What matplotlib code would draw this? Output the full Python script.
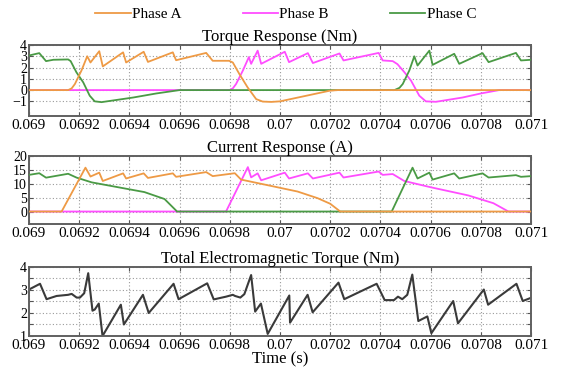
"""Phase torque, phase current and total torque of a 3-phase machine."""

import matplotlib.pyplot as plt
from matplotlib.ticker import FuncFormatter

plt.rcParams["font.family"] = ["Liberation Serif", "DejaVu Serif"]

# phase torque (Nm)
torque_a_t = [0.069, 0.069156, 0.06917, 0.069183, 0.069209, 0.069232, 0.069245, 0.06928,
              0.069294, 0.069375, 0.069387, 0.069457, 0.069474, 0.069573, 0.069586,
              0.069706, 0.069732, 0.069797, 0.069812, 0.069838, 0.069871, 0.069905,
              0.069931, 0.069965, 0.070, 0.070105, 0.070197, 0.07023, 0.071]
torque_a = [0, 0, 0.15, 0.54, 1.73, 3.0, 2.45, 3.45, 2.1, 3.35, 2.45, 3.4, 2.5, 3.35, 2.65,
            3.3, 2.6, 2.6, 2.45, 1.43, 0.24, -0.8, -1.02, -1.05, -1.0, -0.5, -0.06, 0, 0]

torque_b_t = [0.069, 0.069799, 0.069812, 0.069825, 0.069852, 0.069876, 0.069885, 0.069911,
              0.069925, 0.070019, 0.070036, 0.070111, 0.070131, 0.070237, 0.070253,
              0.070393, 0.070409, 0.070449, 0.070468, 0.070495, 0.070522, 0.070555,
              0.070581, 0.070621, 0.070727, 0.0708, 0.070873, 0.071]
torque_b = [0, 0, 0.15, 0.54, 1.73, 2.93, 2.33, 3.5, 2.33, 3.4, 2.48, 3.28, 2.4, 3.25, 2.63,
            3.3, 2.63, 2.57, 2.3, 1.6, 0.84, -0.5, -1.0, -1.04, -0.66, -0.3, 0, 0]

torque_c_t = [0.069, 0.069041, 0.069068, 0.069097, 0.069156, 0.069166, 0.069189, 0.069216,
              0.069242, 0.069262, 0.069289, 0.069415, 0.069507, 0.0696, 0.070456,
              0.070476, 0.070489, 0.070515, 0.070535, 0.070548, 0.070595, 0.070608,
              0.070694, 0.070714, 0.070807, 0.070831, 0.07094, 0.07096, 0.071]
torque_c = [3.07, 3.28, 2.57, 2.69, 2.72, 2.57, 1.58, 0.69, -0.5, -1.0, -1.07, -0.66, -0.3,
            0, 0, 0.2, 0.54, 1.73, 3.0, 2.18, 3.5, 2.24, 3.22, 2.33, 3.28, 2.48, 3.3, 2.63,
            2.69]

# phase current (A)
current_a_t = [0.069, 0.06913, 0.069225, 0.069245, 0.06928, 0.069294, 0.069375, 0.069387,
               0.069457, 0.069474, 0.069573, 0.069586, 0.069706, 0.069732, 0.06982,
               0.069845, 0.06995, 0.07007, 0.07015, 0.0702, 0.07024, 0.071]
current_a = [0, 0, 15.8, 12.6, 14.0, 11.0, 13.75, 11.9, 13.75, 12.1, 13.75, 12.5, 14.2, 12.75,
             13.8, 11.5, 9.5, 7.2, 4.8, 2.8, 0, 0]

current_b_t = [0.069, 0.069785, 0.069872, 0.069885, 0.069911, 0.069925, 0.070019, 0.070036,
               0.070111, 0.070131, 0.070237, 0.070253, 0.070393, 0.070409, 0.070449,
               0.070495, 0.0706, 0.07075, 0.07085, 0.07091, 0.071]
current_b = [0, 0, 16.0, 12.3, 13.75, 11.25, 14.0, 11.9, 13.75, 11.9, 14.0, 12.25, 14.4, 13.2,
             13.5, 11.0, 8.75, 5.8, 3.0, 0, 0]

current_c_t = [0.069, 0.069041, 0.069068, 0.069156, 0.06919, 0.06925, 0.06934, 0.06946,
               0.06954, 0.06959, 0.070445, 0.070528, 0.070548, 0.070595, 0.070608,
               0.070694, 0.070714, 0.070807, 0.070831, 0.07094, 0.07096, 0.071]
current_c = [13.2, 13.8, 12.2, 13.6, 12.2, 10.5, 9.0, 7.0, 4.5, 0, 0, 15.8, 11.9, 14.0, 11.5,
             13.75, 11.9, 13.75, 12.25, 13.1, 12.5, 12.75]

# total electromagnetic torque (Nm)
total_t = [0.069, 0.069044, 0.06907, 0.06911, 0.069156, 0.06917, 0.06919, 0.069203, 0.06922,
           0.069236, 0.069253, 0.069262, 0.069278, 0.069293, 0.069366, 0.069378, 0.069454,
           0.069477, 0.069576, 0.069596, 0.06971, 0.069736, 0.069785, 0.069812, 0.069821,
           0.069842, 0.069858, 0.069885, 0.069901, 0.069924, 0.069951, 0.070037, 0.07004,
           0.07011, 0.07013, 0.070233, 0.070256, 0.070385, 0.070417, 0.070454, 0.07047,
           0.070487, 0.070507, 0.070527, 0.070551, 0.070587, 0.070603, 0.07069, 0.070709,
           0.070812, 0.070829, 0.070942, 0.070967, 0.071]
total = [3.02, 3.27, 2.6, 2.74, 2.79, 2.83, 2.67, 2.67, 2.86, 3.73, 2.1, 2.15, 2.41, 1.0,
         2.36, 1.5, 2.79, 2.0, 3.27, 2.6, 3.29, 2.59, 2.71, 2.79, 2.74, 2.67, 2.82, 3.65,
         2.06, 2.41, 1.09, 2.76, 1.58, 2.79, 2.03, 3.32, 2.6, 3.27, 2.56, 2.56, 2.71, 2.6,
         2.79, 3.67, 1.65, 1.85, 1.12, 2.52, 1.55, 3.02, 2.36, 3.27, 2.52, 2.66]

x_ticks = [0.069, 0.0692, 0.0694, 0.0696, 0.0698, 0.07, 0.0702, 0.0704, 0.0706, 0.0708, 0.071]

COL_A = "#ee9a45"
COL_B = "#ff4dff"
COL_C = "#4a9a45"


def style_axes(ax, title):
    ax.set_xlim(0.069, 0.071)
    ax.set_xticks(x_ticks)
    ax.xaxis.set_major_formatter(FuncFormatter(lambda v, _: f"{v:g}"))
    ax.set_title(title, fontsize=12, pad=3)
    ax.grid(True, linestyle=(0, (1, 2)), color="#9a9a9a", linewidth=0.8)
    ax.tick_params(direction="in", top=True, right=True, length=3, width=0.8,
                   labelsize=11, pad=2, color="#555555")
    ax.tick_params(axis="y", labelsize=10, pad=1.5)
    for sp in ax.spines.values():
        sp.set_color("#606060")
        sp.set_linewidth(1.4)


fig = plt.figure(figsize=(5.66, 3.77), dpi=100)
ax1 = fig.add_axes([0.0512, 0.6923, 0.887, 0.1883])
ax2 = fig.add_axes([0.0512, 0.4058, 0.887, 0.1804])
ax3 = fig.add_axes([0.0512, 0.1088, 0.887, 0.1830])

lw = 1.3
la, = ax1.plot(torque_a_t, torque_a, color=COL_A, lw=lw, zorder=4, label="Phase A")
lb, = ax1.plot(torque_b_t, torque_b, color=COL_B, lw=lw, zorder=2, label="Phase B")
lc, = ax1.plot(torque_c_t, torque_c, color=COL_C, lw=lw, zorder=3, label="Phase C")
style_axes(ax1, "Torque Response (Nm)")
ax1.set_ylim(-2.3, 4)
ax1.set_yticks([-1, 0, 1, 2, 3, 4])

ax2.plot(current_a_t, current_a, color=COL_A, lw=lw, zorder=4)
ax2.plot(current_b_t, current_b, color=COL_B, lw=lw, zorder=2)
ax2.plot(current_c_t, current_c, color=COL_C, lw=lw, zorder=3)
style_axes(ax2, "Current Response (A)")
ax2.set_ylim(-4.5, 20)
ax2.set_yticks([0, 5, 10, 15, 20])

ax3.plot(total_t, total, color="#3a3a3a", lw=1.5)
style_axes(ax3, "Total Electromagnetic Torque (Nm)")
ax3.set_ylim(1, 4)
ax3.set_yticks([1, 1.5, 2, 2.5, 3, 3.5, 4])
ax3.set_yticklabels(["1", "", "2", "", "3", "", "4"])
ax3.set_xlabel("Time (s)", fontsize=12, labelpad=0)

fig.legend(handles=[la, lb, lc], loc="center", bbox_to_anchor=(0.505, 0.962), ncol=3,
           frameon=False, fontsize=11, handlelength=2.3, handletextpad=0.1,
           columnspacing=4.0)

fig.savefig("out.png", dpi=100)
